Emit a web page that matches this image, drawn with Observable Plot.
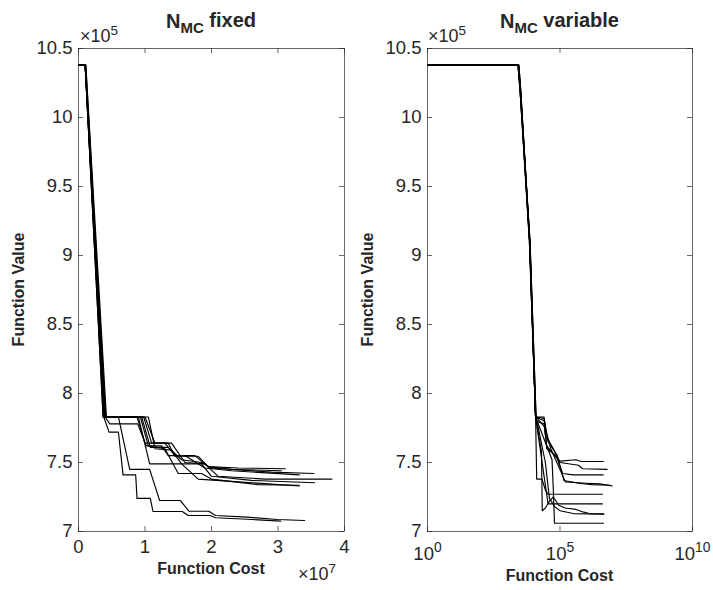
<!DOCTYPE html>
<html>
<head>
<meta charset="utf-8">
<script src="https://cdn.jsdelivr.net/npm/d3@7"></script>
<script src="https://cdn.jsdelivr.net/npm/@observablehq/plot@0.6"></script>
<style>
  html, body { margin: 0; padding: 0; background: #fff; }
  #wrap { display: flex; width: 713px; height: 590px; }
  svg { display: block; }
</style>
</head>
<body>
<div id="wrap"></div>
<script>
// ---------- Tick labels ----------
const valueTicks = [7, 7.5, 8, 8.5, 9, 9.5, 10, 10.5];          // ×10^5
const fixedCostTicks = [0, 1, 2, 3, 4];                          // ×10^7
const variableCostTicks = [1, 1e5, 1e10];

// ---------- Left panel: N_MC fixed (cost ×10^7, value ×10^5) ----------
const fixedRun1 = [[0,10.38],[0.10,10.38],[0.37,7.83],[0.88,7.83],[1.00,7.64],[1.30,7.64],[1.45,7.55],[1.75,7.55],[1.95,7.47],[2.40,7.46],[3.11,7.455]];
const fixedRun2 = [[0,10.38],[0.11,10.38],[0.40,7.83],[0.95,7.83],[1.08,7.61],[1.35,7.61],[1.55,7.52],[1.85,7.50],[2.00,7.46],[2.60,7.44],[2.90,7.43],[3.54,7.42]];
const fixedRun3 = [[0,10.38],[0.10,10.38],[0.40,7.83],[0.47,7.78],[0.89,7.78],[1.02,7.62],[1.25,7.62],[1.35,7.55],[1.60,7.55],[1.90,7.46],[2.30,7.44],[3.32,7.41]];
const fixedRun4 = [[0,10.38],[0.10,10.38],[0.39,7.83],[1.00,7.83],[1.15,7.64],[1.40,7.64],[1.60,7.50],[1.90,7.49],[2.10,7.40],[2.80,7.38],[3.81,7.38]];
const fixedRun5 = [[0,10.38],[0.11,10.38],[0.42,7.83],[1.05,7.83],[1.15,7.60],[1.40,7.59],[1.55,7.49],[1.85,7.49],[2.00,7.40],[2.60,7.37],[3.55,7.353]];
const fixedRun6 = [[0,10.38],[0.10,10.38],[0.38,7.83],[0.90,7.83],[1.07,7.49],[1.55,7.49],[1.80,7.38],[2.40,7.36],[3.32,7.33]];
const fixedRun7 = [[0,10.38],[0.10,10.38],[0.40,7.83],[0.98,7.83],[1.10,7.64],[1.35,7.64],[1.45,7.545],[1.80,7.545],[1.95,7.47],[2.30,7.45],[3.05,7.44]];
const fixedRun8 = [[0,10.38],[0.10,10.38],[0.41,7.83],[0.93,7.83],[1.05,7.62],[1.30,7.60],[1.50,7.42],[1.85,7.42],[2.00,7.38],[2.70,7.34],[3.32,7.335]];
const fixedRun9 = [[0,10.38],[0.10,10.38],[0.38,7.83],[0.46,7.72],[0.60,7.72],[0.67,7.41],[0.86,7.41],[0.88,7.24],[1.08,7.24],[1.12,7.145],[1.56,7.145],[1.65,7.116],[1.98,7.116],[2.06,7.10],[2.54,7.089],[3.04,7.075]];
const fixedRun10 = [[0,10.38],[0.10,10.38],[0.37,7.83],[0.60,7.83],[0.77,7.45],[1.07,7.45],[1.22,7.225],[1.53,7.225],[1.66,7.147],[1.96,7.147],[2.06,7.116],[2.54,7.104],[2.99,7.087],[3.40,7.08]];
const fixedRuns = [fixedRun1, fixedRun2, fixedRun3, fixedRun4, fixedRun5, fixedRun6, fixedRun7, fixedRun8, fixedRun9, fixedRun10];

// ---------- Right panel: N_MC variable (cost, value ×10^5) ----------
const variableRun1 = [[1,10.38],[2.6e3,10.38],[3.1e3,10.2],[7.0e3,9.1],[1.2e4,7.83],[1.26e4,7.80],[2.5e4,7.78],[3.16e4,7.62],[6.3e4,7.55],[1e5,7.51],[4.0e5,7.52],[6.3e5,7.507],[4.3e6,7.507]];
const variableRun2 = [[1,10.38],[2.7e3,10.38],[3.2e3,10.2],[7.2e3,9.1],[1.2e4,7.83],[2.5e4,7.83],[2.8e4,7.70],[5.6e4,7.60],[1e5,7.50],[5.0e5,7.48],[7.1e5,7.455],[6.0e6,7.45]];
const variableRun3 = [[1,10.38],[2.8e3,10.38],[3.3e3,10.2],[7.2e3,9.1],[1.2e4,7.83],[2.63e4,7.80],[3.16e4,7.60],[7.1e4,7.55],[1.26e5,7.42],[3.16e5,7.41],[4.3e6,7.41]];
const variableRun4 = [[1,10.38],[2.7e3,10.38],[3.2e3,10.2],[7.4e3,9.1],[1.25e4,7.83],[2.8e4,7.75],[4.47e4,7.60],[1e5,7.45],[1.58e5,7.36],[4.0e5,7.355],[1e6,7.35],[3.16e6,7.345],[9.5e6,7.33]];
const variableRun5 = [[1,10.38],[2.6e3,10.38],[3.1e3,10.2],[7.2e3,9.1],[1.2e4,7.83],[2.5e4,7.82],[3.55e4,7.65],[7.9e4,7.55],[1.41e5,7.37],[5.0e5,7.35],[1.58e6,7.34],[7.9e6,7.335]];
const variableRun6 = [[1,10.38],[2.7e3,10.38],[3.2e3,10.2],[7.0e3,9.1],[1.2e4,7.83],[1.32e4,7.38],[2.1e4,7.38],[2.8e4,7.30],[3.55e4,7.27],[4.0e6,7.27]];
const variableRun7 = [[1,10.38],[2.8e3,10.38],[3.3e3,10.2],[7.2e3,9.1],[1.2e4,7.83],[1.78e4,7.60],[3.55e4,7.20],[4.0e6,7.20]];
const variableRun8 = [[1,10.38],[2.7e3,10.38],[3.2e3,10.2],[7.2e3,9.1],[1.2e4,7.83],[2.0e4,7.58],[2.14e4,7.15],[2.8e4,7.17],[4.0e4,7.22],[5.6e4,7.25],[8.9e4,7.19],[1.58e5,7.17],[4.0e5,7.16],[7.9e5,7.14],[1.26e6,7.13],[4.5e6,7.128]];
const variableRun9 = [[1,10.38],[2.6e3,10.38],[3.1e3,10.2],[7.2e3,9.1],[1.2e4,7.83],[5.0e4,7.52],[5.6e4,7.30],[6.2e4,7.06],[4.4e6,7.06]];
const variableRun10 = [[1,10.38],[2.7e3,10.38],[3.2e3,10.2],[7.4e3,9.1],[1.25e4,7.83],[2.8e4,7.50],[4.0e4,7.24],[6.3e4,7.18],[1e5,7.15],[3.16e5,7.13],[4.5e6,7.125]];
const variableRuns = [variableRun1, variableRun2, variableRun3, variableRun4, variableRun5, variableRun6, variableRun7, variableRun8, variableRun9, variableRun10];

// ---------- Styling ----------
const FONT = "'Liberation Sans', Arial, Helvetica, sans-serif";
const INK = "#262626";
const H = 590, MT = 48, MB = 59;
const innerH = H - MT - MB;
const TICK = 5;

function panel({width, ml, mr, xOpts, xTicks, xFormat, xPad, runs}) {
  const innerW = width - ml - mr;
  return Plot.plot({
    width, height: H,
    marginLeft: ml, marginRight: mr, marginTop: MT, marginBottom: MB,
    style: {fontFamily: FONT, fontSize: "18.5px", color: INK, background: "#fff", overflow: "visible"},
    x: {...xOpts},
    y: {domain: [7, 10.5]},
    marks: [
      ...runs.map(r => Plot.line(r, {stroke: "#000", strokeWidth: 1.15})),
      Plot.frame({stroke: INK, strokeWidth: 0.7}),
      Plot.tickX(xTicks, {x: d => d, insetTop: innerH - TICK, stroke: INK, strokeWidth: 0.7}),
      Plot.tickX(xTicks, {x: d => d, insetBottom: innerH - TICK, stroke: INK, strokeWidth: 0.7}),
      Plot.tickY(valueTicks, {y: d => d, insetRight: innerW - TICK, stroke: INK, strokeWidth: 0.7}),
      Plot.tickY(valueTicks, {y: d => d, insetLeft: innerW - TICK, stroke: INK, strokeWidth: 0.7}),
      Plot.axisX({ticks: xTicks, tickSize: 0, tickPadding: xPad, tickFormat: xFormat, label: null, fill: INK, fontSize: 18.5}),
      Plot.axisY({ticks: valueTicks, tickSize: 0, tickPadding: 6, tickFormat: d => String(d), label: null, fill: INK, fontSize: 18.5})
    ]
  });
}

const left = panel({
  width: 356, ml: 78, mr: 12,
  xOpts: {domain: [0, 4]}, xTicks: fixedCostTicks, xFormat: d => String(d), xPad: 8,
  runs: fixedRuns
});
const right = panel({
  width: 357, ml: 71, mr: 21,
  xOpts: {type: "log", domain: [1, 1e10]}, xTicks: variableCostTicks,
  xFormat: d => "10^" + Math.round(Math.log10(d)), xPad: 15,
  runs: variableRuns
});

const wrap = document.getElementById("wrap");
wrap.appendChild(left);
wrap.appendChild(right);

// superscript tick labels on the log axis
d3.select(right).selectAll('g[aria-label="x-axis tick label"] text').each(function () {
  const parts = this.textContent.split("^");
  if (parts.length === 2) {
    this.textContent = parts[0];
    d3.select(this).append("tspan").attr("dy", "-0.55em").attr("font-size", "0.75em").text(parts[1]);
  }
});

function addText(svg, {x, y, size, bold, anchor = "middle", rotate = false, pieces}) {
  const t = d3.select(svg).append("text")
    .attr("font-family", FONT).attr("font-size", size).attr("fill", INK)
    .attr("font-weight", bold ? "bold" : "normal").attr("text-anchor", anchor);
  if (rotate) t.attr("transform", `translate(${x},${y}) rotate(-90)`);
  else t.attr("x", x).attr("y", y);
  pieces.forEach(p => {
    const s = t.append("tspan").text(p.text);
    if (p.dy) s.attr("dy", p.dy);
    if (p.size) s.attr("font-size", p.size);
  });
}

// titles
addText(left, {x: 211, y: 28, size: 20, bold: true,
  pieces: [{text: "N"}, {text: "MC", dy: "0.3em", size: 15}, {text: " fixed", dy: "-0.3em"}]});
addText(right, {x: 203.5, y: 28, size: 20, bold: true,
  pieces: [{text: "N"}, {text: "MC", dy: "0.3em", size: 15}, {text: " variable", dy: "-0.3em"}]});

// exponent notes
addText(left, {x: 80, y: 42, size: 18, anchor: "start",
  pieces: [{text: "×10"}, {text: "5", dy: "-0.55em", size: 13.5}]});
addText(right, {x: 72, y: 42, size: 18, anchor: "start",
  pieces: [{text: "×10"}, {text: "5", dy: "-0.55em", size: 13.5}]});
addText(left, {x: 298, y: 580, size: 18, anchor: "start",
  pieces: [{text: "×10"}, {text: "7", dy: "-0.55em", size: 13.5}]});

// axis labels
addText(left, {x: 211, y: 574, size: 16, bold: true, pieces: [{text: "Function Cost"}]});
addText(right, {x: 203.5, y: 581, size: 16, bold: true, pieces: [{text: "Function Cost"}]});
addText(left, {x: 24, y: 289.5, size: 16, bold: true, rotate: true, pieces: [{text: "Function Value"}]});
addText(right, {x: 17, y: 289.5, size: 16, bold: true, rotate: true, pieces: [{text: "Function Value"}]});
</script>
</body>
</html>
